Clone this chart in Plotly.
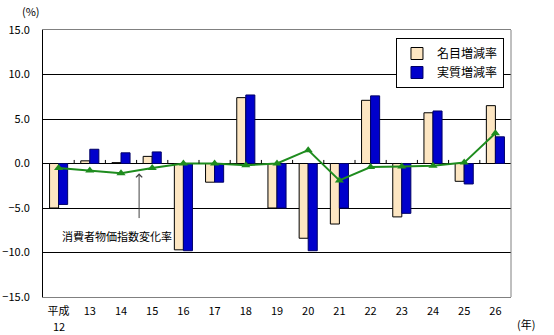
import plotly.graph_objects as go

# Fiscal years (Heisei era) and growth rates (%)
years = ["平成", "13", "14", "15", "16", "17", "18", "19", "20",
         "21", "22", "23", "24", "25", "26"]
first_year = "12"
nominal = [-5.0, 0.3, 0.1, 0.8, -9.7, -2.1, 7.4, -5.0, -8.4,
           -6.8, 7.1, -6.0, 5.7, -2.0, 6.5]
real = [-4.6, 1.6, 1.2, 1.3, -9.8, -2.1, 7.7, -5.0, -9.8,
        -5.0, 7.6, -5.6, 5.9, -2.3, 3.0]
cpi = [-0.5, -0.8, -1.1, -0.5, 0.0, 0.0, -0.2, 0.0, 1.5,
       -1.9, -0.4, -0.35, -0.25, 0.1, 3.4]
y_ticks = [-15, -10, -5, 0, 5, 10, 15]

FONT = "Noto Sans CJK JP"
xpos = list(range(len(years)))

fig = go.Figure()
fig.add_trace(go.Bar(
    x=xpos, y=nominal, name="名目増減率",
    marker=dict(color="#FDE6C2", line=dict(color="#000000", width=1)),
))
fig.add_trace(go.Bar(
    x=xpos, y=real, name="実質増減率",
    marker=dict(color="#0000CC", line=dict(color="#000066", width=1)),
))
fig.add_trace(go.Scatter(
    x=xpos, y=cpi, mode="lines+markers", showlegend=False,
    line=dict(color="#1E8C1E", width=2),
    marker=dict(symbol="triangle-up", size=8, color="#1E8C1E"),
))

# small category separators on the zero line
for i in range(len(years) - 1):
    fig.add_shape(type="line", xref="x", yref="y",
                  x0=i + 0.5, x1=i + 0.5, y0=0, y1=0.4,
                  line=dict(color="#000000", width=1))

# right frame edge
fig.add_shape(type="line", xref="paper", yref="paper", x0=1, x1=1, y0=0, y1=1,
              line=dict(color="#808080", width=1))

# second line of the first year label (平成 / 12)
fig.add_annotation(x=xpos[0], y=-0.108, xref="x", yref="paper", text=first_year,
                   showarrow=False, yanchor="middle",
                   font=dict(family=FONT, size=11, color="#000000"))

fig.add_annotation(x=1.87, y=-8.1, xref="x", yref="y", text="消費者物価指数変化率",
                   showarrow=False, font=dict(family=FONT, size=11, color="#000000"))
fig.add_annotation(x=2.58, y=-1.1, xref="x", yref="y", ax=2.58, ay=-6.3,
                   axref="x", ayref="y", text="", showarrow=True,
                   arrowhead=4, arrowsize=1.2, arrowwidth=1, arrowcolor="#404040")
fig.add_annotation(x=-0.002, y=1.034, xref="paper", yref="paper", text="(%)",
                   showarrow=False, xanchor="right", yanchor="bottom",
                   font=dict(family=FONT, size=11, color="#000000"))
fig.add_annotation(x=1.008, y=-0.062, xref="paper", yref="paper", text="(年)",
                   showarrow=False, xanchor="left", yanchor="top",
                   font=dict(family=FONT, size=11, color="#000000"))

fig.update_layout(
    width=554, height=335,
    margin=dict(l=43, r=43, t=30, b=38, autoexpand=False),
    paper_bgcolor="white", plot_bgcolor="white",
    font=dict(family=FONT, size=11, color="#000000"),
    barmode="group", bargap=0.42, bargroupgap=0,
    legend=dict(x=0.985, y=0.97, xanchor="right", yanchor="top",
                bgcolor="white", bordercolor="#000000", borderwidth=1,
                font=dict(family=FONT, size=12), tracegroupgap=0,
                itemwidth=30),
    xaxis=dict(range=[-0.5, len(years) - 0.5], tickmode="array", tickvals=xpos,
               ticktext=years, ticks="", ticklabelstandoff=4,
               showgrid=False, zeroline=False, automargin=False,
               showline=True, linecolor="#808080", linewidth=1, mirror=True),
    yaxis=dict(range=[-15, 15], tickmode="array", tickvals=y_ticks,
               tickformat=".1f", ticks="", ticklabelstandoff=10,
               automargin=False,
               showgrid=True, gridcolor="#000000", gridwidth=1,
               zeroline=True, zerolinecolor="#000000", zerolinewidth=1,
               showline=True, linecolor="#000000", linewidth=1),
)

fig.write_html("out.html")
